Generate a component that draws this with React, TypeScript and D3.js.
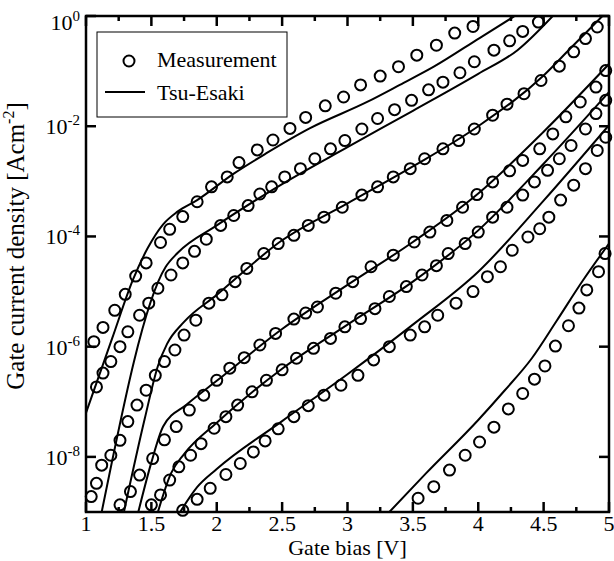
import React from 'react';
import * as d3 from 'd3';

const aV = [1.06, 1.13, 1.22, 1.30, 1.38, 1.46, 1.57, 1.64, 1.74, 1.85, 1.96, 2.08, 2.17, 2.31, 2.43, 2.56, 2.68, 2.83, 2.97, 3.10, 3.25, 3.39, 3.53, 3.68, 3.82, 3.96];
const aJ = [-5.91, -5.65, -5.34, -5.05, -4.72, -4.48, -4.11, -3.87, -3.64, -3.37, -3.10, -2.92, -2.66, -2.43, -2.25, -2.04, -1.84, -1.63, -1.47, -1.25, -1.09, -0.92, -0.71, -0.53, -0.31, -0.19];

const bV = [1.08, 1.13, 1.19, 1.26, 1.32, 1.41, 1.48, 1.55, 1.65, 1.74, 1.83, 1.92, 2.03, 2.13, 2.24, 2.33, 2.42, 2.52, 2.64, 2.75, 2.87, 2.98, 3.11, 3.23, 3.36, 3.49, 3.62, 3.73, 3.86, 3.97, 4.12, 4.24, 4.34, 4.46];
const bJ = [-6.73, -6.48, -6.27, -6.00, -5.73, -5.43, -5.21, -4.94, -4.70, -4.48, -4.27, -4.05, -3.80, -3.62, -3.44, -3.23, -3.10, -2.92, -2.77, -2.59, -2.41, -2.26, -2.05, -1.86, -1.70, -1.53, -1.34, -1.20, -1.03, -0.83, -0.62, -0.45, -0.28, -0.11];

const cV = [1.04, 1.08, 1.12, 1.19, 1.26, 1.32, 1.39, 1.46, 1.53, 1.60, 1.68, 1.75, 1.84, 1.94, 2.04, 2.14, 2.23, 2.36, 2.47, 2.59, 2.70, 2.82, 2.96, 3.11, 3.23, 3.35, 3.48, 3.59, 3.73, 3.85, 3.97, 4.11, 4.22, 4.35, 4.48, 4.62, 4.73, 4.82, 4.91];
const cJ = [-8.72, -8.48, -8.15, -7.97, -7.70, -7.36, -7.06, -6.79, -6.52, -6.27, -6.06, -5.79, -5.52, -5.21, -5.06, -4.82, -4.58, -4.31, -4.13, -3.98, -3.80, -3.65, -3.47, -3.25, -3.10, -2.92, -2.77, -2.59, -2.41, -2.26, -2.05, -1.80, -1.60, -1.41, -1.17, -0.91, -0.65, -0.41, -0.20];

const dV = [1.26, 1.34, 1.41, 1.51, 1.60, 1.69, 1.79, 1.90, 2.00, 2.10, 2.21, 2.33, 2.45, 2.59, 2.68, 2.77, 2.91, 3.04, 3.18, 3.35, 3.51, 3.63, 3.76, 3.88, 3.99, 4.11, 4.24, 4.34, 4.47, 4.57, 4.67, 4.78, 4.90, 4.975];
const dJ = [-8.87, -8.63, -8.33, -8.03, -7.69, -7.45, -7.15, -6.88, -6.61, -6.39, -6.20, -5.97, -5.76, -5.50, -5.39, -5.28, -5.03, -4.82, -4.55, -4.34, -4.10, -3.92, -3.71, -3.47, -3.24, -3.01, -2.81, -2.62, -2.41, -2.14, -1.83, -1.56, -1.29, -0.99];

const eV = [1.50, 1.57, 1.64, 1.71, 1.80, 1.88, 1.98, 2.07, 2.16, 2.27, 2.38, 2.50, 2.61, 2.74, 2.87, 2.98, 3.10, 3.21, 3.32, 3.45, 3.57, 3.68, 3.77, 3.90, 4.00, 4.11, 4.22, 4.34, 4.43, 4.53, 4.62, 4.71, 4.82, 4.90, 4.975];
const eJ = [-8.87, -8.69, -8.42, -8.18, -7.97, -7.76, -7.48, -7.27, -7.06, -6.82, -6.61, -6.42, -6.21, -6.03, -5.85, -5.64, -5.49, -5.31, -5.09, -4.91, -4.70, -4.53, -4.31, -4.13, -3.92, -3.65, -3.47, -3.25, -3.01, -2.80, -2.59, -2.35, -2.05, -1.77, -1.53];

const fV = [1.74, 1.85, 1.95, 2.07, 2.18, 2.28, 2.37, 2.47, 2.59, 2.70, 2.82, 2.95, 3.08, 3.20, 3.32, 3.48, 3.59, 3.69, 3.83, 3.96, 4.07, 4.17, 4.26, 4.38, 4.47, 4.54, 4.63, 4.73, 4.82, 4.91, 4.975];
const fJ = [-8.97, -8.77, -8.57, -8.32, -8.12, -7.91, -7.71, -7.49, -7.27, -7.07, -6.88, -6.70, -6.52, -6.24, -6.00, -5.79, -5.64, -5.43, -5.21, -5.00, -4.73, -4.55, -4.25, -4.01, -3.86, -3.65, -3.34, -3.07, -2.77, -2.44, -2.20];

const gV = [3.54, 3.66, 3.78, 3.90, 4.01, 4.12, 4.23, 4.34, 4.43, 4.51, 4.59, 4.69, 4.77, 4.83, 4.92, 4.97];
const gJ = [-8.75, -8.54, -8.24, -7.97, -7.73, -7.46, -7.13, -6.85, -6.59, -6.35, -5.99, -5.62, -5.30, -4.97, -4.64, -4.31];

// Tsu-Esaki model curves
const laV = [1.0, 1.2, 1.36, 1.47, 1.59, 1.7, 1.85, 2.13, 2.38, 2.71, 3.15, 3.40, 3.66, 4.01, 4.28];
const laJ = [-7.2, -5.85, -4.78, -4.22, -3.78, -3.55, -3.34, -2.86, -2.49, -2.04, -1.56, -1.25, -0.92, -0.40, 0.0];
const lbV = [1.12, 1.61, 1.7, 2.0, 2.5, 3.0, 3.5, 4.0, 4.3, 4.57];
const lbJ = [-9.0, -4.55, -4.3, -3.8, -3.05, -2.38, -1.72, -1.05, -0.62, 0.0];
const lcV = [1.29, 1.45, 1.55, 1.62, 1.75, 2.0, 2.5, 3.0, 3.5, 4.0, 4.5, 4.7, 4.95];
const lcJ = [-9.0, -7.3, -6.35, -5.95, -5.55, -5.06, -4.07, -3.40, -2.73, -2.0, -1.08, -0.6, 0.0];
const ldV = [1.4, 1.5, 1.59, 1.77, 2.0, 2.5, 3.0, 3.5, 4.0, 4.5, 5.0];
const ldJ = [-9.0, -8.1, -7.45, -7.05, -6.62, -5.68, -4.88, -4.1, -3.22, -2.1, -0.87];
const leV = [1.55, 1.65, 1.75, 2.0, 2.5, 3.0, 3.5, 4.0, 4.5, 5.0];
const leJ = [-9.0, -8.3, -7.95, -7.38, -6.4, -5.6, -4.82, -3.89, -2.68, -1.38];
const lfV = [1.72, 1.85, 2.0, 2.5, 3.0, 3.5, 4.0, 4.5, 5.0];
const lfJ = [-9.0, -8.55, -8.22, -7.35, -6.5, -5.6, -4.64, -3.35, -1.98];
const lgV = [3.32, 3.6, 4.0, 4.2, 4.41, 4.6, 4.8, 5.0];
const lgJ = [-9.0, -8.3, -7.33, -6.8, -6.21, -5.53, -4.8, -4.13];

const measured = [[aV, aJ], [bV, bJ], [cV, cJ], [dV, dJ], [eV, eJ], [fV, fJ], [gV, gJ]];
const model = [[laV, laJ], [lbV, lbJ], [lcV, lcJ], [ldV, ldJ], [leV, leJ], [lfV, lfJ], [lgV, lgJ]];

const xMajor = [1, 1.5, 2, 2.5, 3, 3.5, 4, 4.5, 5];
const xMinor = [1.25, 1.75, 2.25, 2.75, 3.25, 3.75, 4.25, 4.75];
const yExp = [0, -2, -4, -6, -8];

const W = 614;
const H = 561;
const left = 86, right = 609, top = 16, bottom = 512;
const font = '"Liberation Serif", "Times New Roman", serif';

export default function App() {
  const x = d3.scaleLinear().domain([1, 5]).range([left, right]);
  const y = d3.scaleLog().domain([1e-9, 1]).range([bottom, top]);

  const line = d3.line<[number, number]>()
    .x(d => x(d[0]))
    .y(d => y(Math.pow(10, d[1])))
    .curve(d3.curveMonotoneX);

  return (
    <svg width={W} height={H} style={{ position: 'absolute', left: 0, top: 0, background: '#fff' }} fontFamily={font}>
      <defs>
        <clipPath id="plot">
          <rect x={left} y={top} width={right - left} height={bottom - top} />
        </clipPath>
      </defs>

      <g clipPath="url(#plot)" fill="none" stroke="#000" strokeWidth={2}>
        {model.map(([vs, js], i) => (
          <path key={i} d={line(vs.map((v, k) => [v, js[k]] as [number, number])) || ''} />
        ))}
      </g>

      <g fill="none" stroke="#000" strokeWidth={2}>
        {measured.map(([vs, js], i) =>
          vs.map((v, k) => (
            <circle key={i + '-' + k} cx={x(v)} cy={y(Math.pow(10, js[k]))} r={5.5} />
          ))
        )}
      </g>

      {/* frame and ticks */}
      <g stroke="#000" strokeWidth={2.5}>
        <rect x={left} y={top} width={right - left} height={bottom - top} fill="none" />
        {xMajor.map(t => (
          <g key={'xM' + t}>
            <line x1={x(t)} x2={x(t)} y1={bottom} y2={bottom - 10} />
            <line x1={x(t)} x2={x(t)} y1={top} y2={top + 10} />
          </g>
        ))}
        {xMinor.map(t => (
          <g key={'xm' + t}>
            <line x1={x(t)} x2={x(t)} y1={bottom} y2={bottom - 5} />
            <line x1={x(t)} x2={x(t)} y1={top} y2={top + 5} />
          </g>
        ))}
        {yExp.map(e => (
          <g key={'y' + e}>
            <line x1={left} x2={left + 10} y1={y(Math.pow(10, e))} y2={y(Math.pow(10, e))} />
            <line x1={right} x2={right - 10} y1={y(Math.pow(10, e))} y2={y(Math.pow(10, e))} />
          </g>
        ))}
      </g>

      <g fontSize={22} fill="#000">
        {xMajor.map(t => (
          <text key={'xl' + t} x={x(t)} y={531} textAnchor="middle">{t}</text>
        ))}
        {yExp.map(e => (
          <text key={'yl' + e} x={80} y={e === 0 ? 30 : y(Math.pow(10, e)) + 8} textAnchor="end">
            10<tspan dy={-9} fontSize={15}>{e}</tspan>
          </text>
        ))}
      </g>

      <text x={(left + right) / 2} y={555} textAnchor="middle" fontSize={22}>Gate bias [V]</text>
      <text transform="translate(24,246) rotate(-90)" textAnchor="middle" fontSize={25}>
        Gate current density [Acm<tspan dy={-10} fontSize={16}>-2</tspan><tspan dy={10}>]</tspan>
      </text>

      {/* legend */}
      <g>
        <rect x={97} y={32} width={190} height={85} fill="#fff" stroke="#000" strokeWidth={1} />
        <circle cx={129} cy={61} r={5.5} fill="none" stroke="#000" strokeWidth={2} />
        <text x={157} y={67} fontSize={22}>Measurement</text>
        <line x1={105} x2={145} y1={92} y2={92} stroke="#000" strokeWidth={2} />
        <text x={157} y={100} fontSize={22}>Tsu-Esaki</text>
      </g>
    </svg>
  );
}
